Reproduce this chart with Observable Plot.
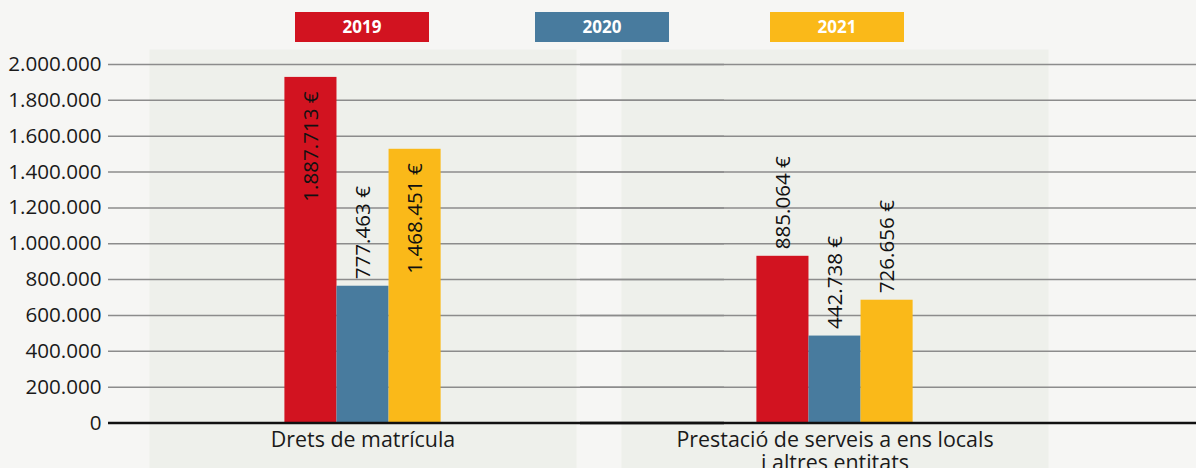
<!DOCTYPE html>
<html><head><meta charset="utf-8">
<script src="https://cdn.jsdelivr.net/npm/d3@7"></script>
<script src="https://cdn.jsdelivr.net/npm/@observablehq/plot@0.6"></script>
<style>
body{margin:0;background:#f6f6f4;font-family:"Open Sans",sans-serif;}
#wrap{position:relative;width:1196px;height:468px;overflow:hidden;}
#legend{position:relative;height:49px;}
.key{position:absolute;top:12px;width:134px;height:30px;color:#fff;font-weight:700;font-size:17px;line-height:30px;text-align:center;}
#chart svg{display:block;overflow:hidden;}
</style></head><body>
<div id="wrap"><div id="legend"></div><div id="chart"></div></div>
<script>
const categories = ["Drets de matrícula", "Prestació de serveis a ens locals\ni altres entitats"];
const years = ["2019", "2020", "2021"];
const colors = ["#d21320", "#487b9e", "#fab919"];
// bar heights as drawn in the picture (per category)
const bars2019 = [1928000, 930000];
const bars2020 = [763000, 485000];
const bars2021 = [1527000, 685000];
// printed value labels (per category)
const labels2019 = [1887713, 885064];
const labels2020 = [777463, 442738];
const labels2021 = [1468451, 726656];
const yTicks = [0, 200000, 400000, 600000, 800000, 1000000, 1200000, 1400000, 1600000, 1800000, 2000000];

const barsByYear = [bars2019, bars2020, bars2021];
const labelsByYear = [labels2019, labels2020, labels2021];
const data = categories.flatMap((c, i) => years.map((y, j) => ({
  category: c, year: y, height: barsByYear[j][i], label: labelsByYear[j][i]
})));
const num = v => d3.format(",")(v).replace(/,/g, ".");

// legend
const legendX = [295, 535, 770];
const legend = document.getElementById("legend");
years.forEach((y, j) => {
  const k = document.createElement("div");
  k.className = "key";
  k.style.left = legendX[j] + "px";
  k.style.background = colors[j];
  k.textContent = y;
  legend.appendChild(k);
});

const chart = Plot.plot({
  width: 1196, height: 419,
  marginLeft: 108, marginRight: 0, marginTop: 0, marginBottom: 0,
  style: {background: "transparent", fontFamily: "'Open Sans', sans-serif", fontSize: "20px", color: "#1a1a1a"},
  fx: {domain: categories, paddingInner: 0.0953, paddingOuter: 0.2002, align: 0.217, axis: null, round: false},
  x: {domain: years, paddingInner: 0, paddingOuter: 2.6, axis: null, round: false},
  y: {domain: [0, 2000000], range: [373.5, 15], axis: null},
  color: {domain: years, range: colors},
  marks: [
    Plot.frame({fill: "#eef0eb", stroke: "none"}),
    Plot.ruleY(yTicks.filter(d => d > 0), {y: d => d, stroke: "#8c8c8c", strokeWidth: 1.5, insetLeft: -41, insetRight: -148}),
    Plot.text(yTicks, {fx: () => categories[0], y: d => d, text: num, frameAnchor: "left", textAnchor: "end", dx: -48, fontSize: 20.6, fill: "#1a1a1a"}),
    Plot.barY(data, {fx: "category", x: "year", y: "height", fill: "year"}),
    Plot.ruleY([0], {stroke: "#111", strokeWidth: 2.5, insetLeft: -41, insetRight: -148}),
    Plot.text(data.filter(d => d.height >= 1000000), {fx: "category", x: "year", y: "height", text: d => num(d.label) + " €", rotate: -90, textAnchor: "end", dy: 14, fontSize: 20.6, fill: "#111"}),
    Plot.text(data.filter(d => d.height < 1000000), {fx: "category", x: "year", y: "height", text: d => num(d.label) + " €", rotate: -90, textAnchor: "start", dy: -7, fontSize: 20.6, fill: "#111"}),
    Plot.text(categories, {fx: d => d, y: 0, text: d => d, lineAnchor: "top", dy: 7.5, lineHeight: 1.08, fontSize: 21.4, fill: "#1a1a1a"})
  ]
});
document.getElementById("chart").appendChild(chart);
</script>
</body></html>
